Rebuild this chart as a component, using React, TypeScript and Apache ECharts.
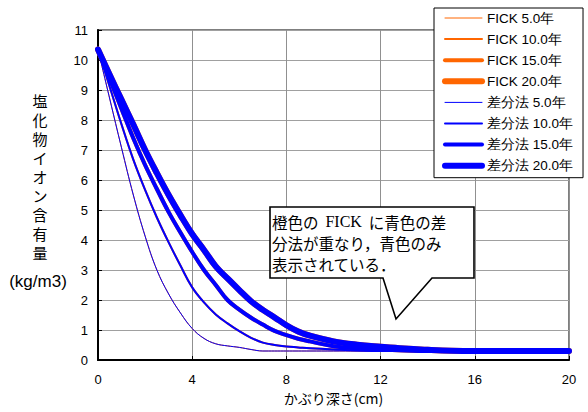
import React, { useEffect, useRef } from "react";
import * as echarts from "echarts";

const depths = [0, 0.5, 1, 1.5, 2, 2.5, 3, 3.5, 4, 4.5, 5, 5.5, 6, 6.5, 7, 7.5, 8, 8.5, 9, 10, 11, 12, 13, 14, 15, 16, 17, 18, 19, 20];

const y5 = [10.35, 8.7, 7.07, 5.5, 4.13, 3.0, 2.2, 1.57, 1.05, 0.72, 0.54, 0.47, 0.42, 0.35, 0.3, 0.3, 0.3, 0.3, 0.3, 0.3, 0.3, 0.3, 0.3, 0.3, 0.3, 0.3, 0.3, 0.3, 0.3, 0.3];
const y10 = [10.35, 9.1, 7.85, 6.68, 5.67, 4.75, 3.92, 3.15, 2.42, 1.92, 1.52, 1.22, 0.96, 0.74, 0.58, 0.5, 0.45, 0.42, 0.39, 0.35, 0.32, 0.3, 0.3, 0.3, 0.3, 0.3, 0.3, 0.3, 0.3, 0.3];
const y15 = [10.35, 9.36, 8.37, 7.39, 6.5, 5.7, 4.93, 4.25, 3.6, 3.0, 2.5, 2.0, 1.68, 1.41, 1.18, 0.97, 0.83, 0.71, 0.62, 0.46, 0.39, 0.35, 0.32, 0.3, 0.3, 0.3, 0.3, 0.3, 0.3, 0.3];
const y20 = [10.35, 9.5, 8.67, 7.85, 7.0, 6.23, 5.5, 4.83, 4.2, 3.67, 3.12, 2.72, 2.33, 1.96, 1.67, 1.42, 1.16, 0.95, 0.81, 0.62, 0.51, 0.44, 0.38, 0.34, 0.31, 0.3, 0.3, 0.3, 0.3, 0.3];

const years = ["5.0年", "10.0年", "15.0年", "20.0年"];
const fickNames = years.map((y) => "FICK " + y);
const diffNames = years.map((y) => "差分法 " + y);
const curves = [y5, y10, y15, y20];
const widths = [1, 2, 4, 6];

const yName = ["塩", "化", "物", "イ", "オ", "ン", "含", "有", "量"];
const noteLines = ["{a|橙色の}  {b|FICK}  {a|に青色の差}", "{a|分法が重なり，青色のみ}", "{a|表示されている．}"];

const LATIN = "'Liberation Sans', Arial, sans-serif";
const JP = "'Noto Sans CJK JP', sans-serif";

export default function App() {
  const ref = useRef<HTMLDivElement>(null);
  useEffect(() => {
    if (!ref.current) return;
    const chart = echarts.init(ref.current, undefined, { renderer: "svg" });
    const mk = (name: string, vals: number[], color: string, w: number) => ({
      name,
      type: "line",
      data: depths.map((d, i) => [d, vals[i]]),
      symbol: "none",
      showSymbol: false,
      smooth: 0.4,
      lineStyle: { color, width: w, cap: "round", join: "round" },
      itemStyle: { color },
    });
    const series: any[] = [];
    curves.forEach((c, i) => series.push(mk(fickNames[i], c, "#FF6600", widths[i])));
    curves.forEach((c, i) => series.push(mk(diffNames[i], c, "#0000FF", widths[i])));

    chart.setOption({
      animation: false,
      backgroundColor: "#fff",
      grid: { left: 98, right: 19, top: 30, bottom: 52, show: true, borderColor: "#555", borderWidth: 1.5, backgroundColor: "transparent" },
      xAxis: {
        type: "value",
        min: 0,
        max: 20,
        interval: 4,
        name: "かぶり深さ(cm)",
        nameLocation: "middle",
        nameGap: 31,
        nameTextStyle: { fontSize: 14, color: "#000", fontFamily: JP },
        axisLine: { show: true, lineStyle: { color: "#000", width: 2 } },
        axisTick: { show: true, inside: true, length: 4, lineStyle: { color: "#000" } },
        axisLabel: { fontSize: 13, color: "#000", margin: 13, fontFamily: LATIN },
        splitLine: { show: true, lineStyle: { color: "#909090", width: 1 } },
      },
      yAxis: {
        type: "value",
        min: 0,
        max: 11,
        interval: 1,
        axisLine: { show: true, lineStyle: { color: "#000", width: 2 } },
        axisTick: { show: true, inside: true, length: 4, lineStyle: { color: "#000" } },
        axisLabel: { fontSize: 13, color: "#000", margin: 10, fontFamily: LATIN },
        splitLine: { show: true, lineStyle: { color: "#a0a0a0", width: 1 } },
      },
      legend: {
        orient: "vertical",
        left: 434,
        top: 8,
        data: [...fickNames, ...diffNames],
        itemWidth: 37,
        itemHeight: 14,
        itemGap: 7.1,
        padding: [3, 10, 5, 8],
        backgroundColor: "#fff",
        borderColor: "#000",
        borderWidth: 1,
        borderRadius: 0,
        lineStyle: { width: "inherit", cap: "round" },
        itemStyle: { opacity: 0, borderWidth: 0 },
        textStyle: { fontSize: 13.5, color: "#000", fontFamily: LATIN },
        selectedMode: false,
      },
      graphic: [
        {
          type: "text",
          z: 100,
          style: {
            text: yName.join("\n"),
            x: 40,
            y: 90.5,
            align: "center",
            verticalAlign: "top",
            lineHeight: 19,
            fontSize: 15,
            fontFamily: JP,
            fill: "#000",
          },
        },
        {
          type: "text",
          z: 100,
          style: {
            text: "(kg/m3)",
            x: 38,
            y: 281,
            align: "center",
            verticalAlign: "middle",
            fontSize: 17,
            fontFamily: LATIN,
            fill: "#000",
          },
        },
        {
          type: "polygon",
          z: 100,
          shape: {
            points: [
              [270, 207],
              [474, 207],
              [474, 278],
              [432, 278],
              [396, 319],
              [383, 278],
              [270, 278],
            ],
          },
          style: { fill: "#fff", stroke: "#000", lineWidth: 1.6 },
        },
        {
          type: "text",
          z: 101,
          style: {
            text: noteLines.join("\n"),
            x: 272,
            y: 211,
            verticalAlign: "top",
            fontSize: 15.5,
            fontFamily: JP,
            fill: "#000",
            lineHeight: 21,
            rich: {
              a: { fontSize: 15.5, fontFamily: JP, fill: "#000", lineHeight: 21 },
              b: { fontSize: 16, fontFamily: "'Liberation Serif', 'Times New Roman', serif", fill: "#000", lineHeight: 21 },
            },
          },
        },
      ],
      series,
    });
    return () => chart.dispose();
  }, []);
  return <div ref={ref} style={{ width: 588, height: 412, position: "absolute", left: 0, top: 0 }} />;
}
